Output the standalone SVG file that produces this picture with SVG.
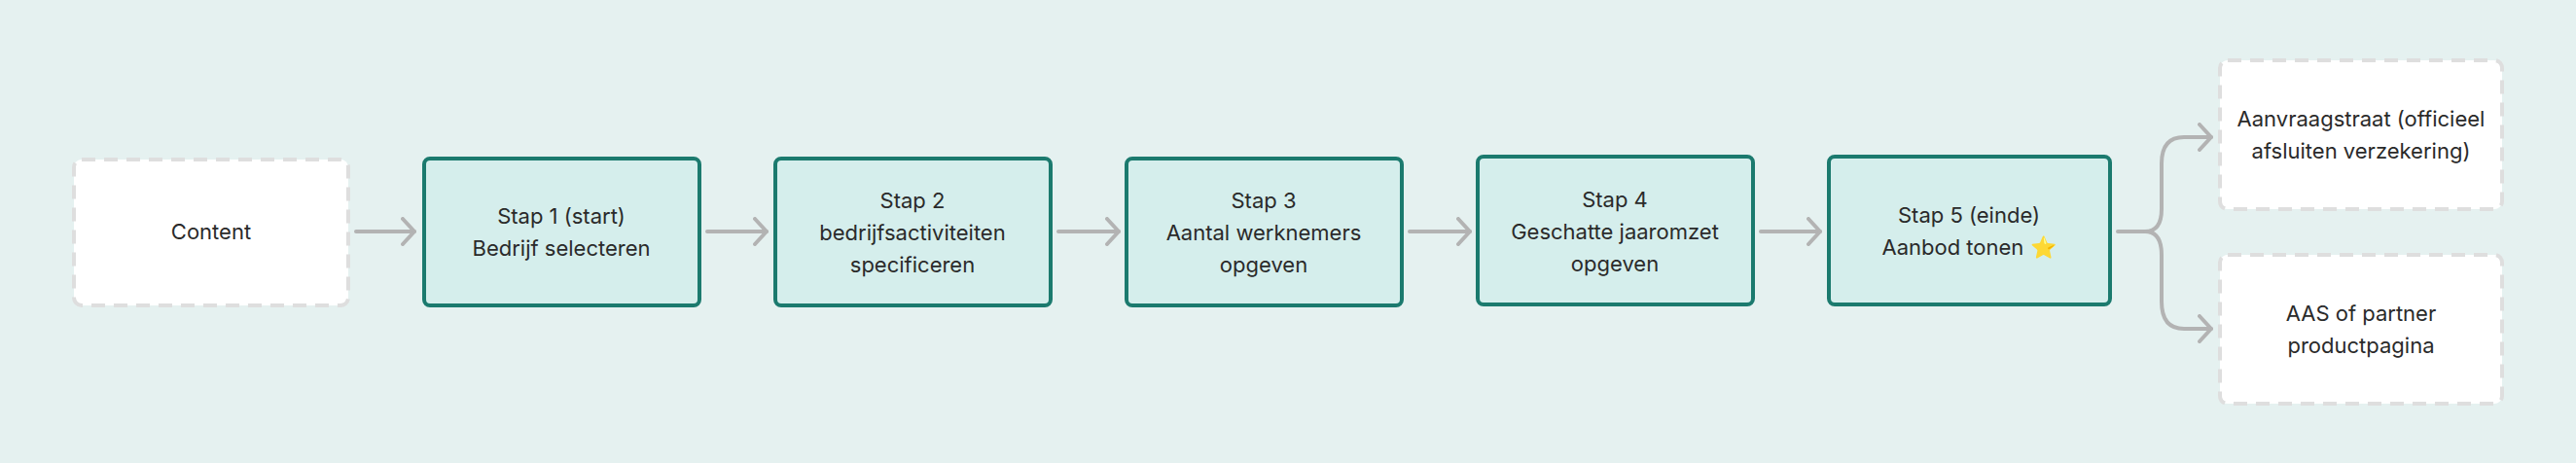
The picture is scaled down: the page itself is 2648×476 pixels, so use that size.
<svg xmlns="http://www.w3.org/2000/svg" width="2648" height="476" viewBox="0 0 2648 476">
<style>
.bg{fill:#e5f1f0}
.step rect{fill:#d5eeec;stroke:#1b7a6e;stroke-width:4}
.ext rect{fill:#fff;stroke:#dedede;stroke-width:4;stroke-dasharray:14 9}
text{font-family:Inter,"Noto Sans",sans-serif;font-size:22px;fill:#2a2a2a;text-anchor:middle}
.c path{fill:none;stroke:#b3b3b3;stroke-width:4;stroke-linecap:round;stroke-linejoin:round}
</style>
<defs><marker id="a" markerWidth="16" markerHeight="30" refX="14" refY="15" orient="auto" markerUnits="userSpaceOnUse"><path d="M2 2 L14 15 L2 28" fill="none" stroke="#b3b3b3" stroke-width="4" stroke-linecap="round" stroke-linejoin="round"/></marker></defs>
<rect class="bg" width="2648" height="476"/>
<g class="c">
<path d="M366 238H426" marker-end="url(#a)"/>
<path d="M727 238H788" marker-end="url(#a)"/>
<path d="M1088 238H1150" marker-end="url(#a)"/>
<path d="M1449 238H1511" marker-end="url(#a)"/>
<path d="M1810 238H1871" marker-end="url(#a)"/>
<path d="M2177 238H2205Q2222 238 2222 215V168Q2222 141 2245 141H2273" marker-end="url(#a)"/>
<path d="M2205 238Q2222 238 2222 262V310Q2222 338 2245 338H2273" marker-end="url(#a)"/>
</g>
<g id="content" class="ext"><rect x="76" y="164" width="282" height="150" rx="8"/><text x="217" y="246">Content</text></g>
<g id="stap1" class="step"><rect x="436" y="163" width="283" height="151" rx="6"/><text x="577" y="230">Stap 1 (start)</text><text x="577" y="263">Bedrijf selecteren</text></g>
<g id="stap2" class="step"><rect x="797" y="163" width="283" height="151" rx="6"/><text x="938" y="214">Stap 2</text><text x="938" y="247">bedrijfsactiviteiten</text><text x="938" y="280">specificeren</text></g>
<g id="stap3" class="step"><rect x="1158" y="163" width="283" height="151" rx="6"/><text x="1299" y="214">Stap 3</text><text x="1299" y="247">Aantal werknemers</text><text x="1299" y="280">opgeven</text></g>
<g id="stap4" class="step"><rect x="1519" y="161" width="283" height="152" rx="6"/><text x="1660" y="213">Stap 4</text><text x="1660" y="246">Geschatte jaaromzet</text><text x="1660" y="279">opgeven</text></g>
<g id="stap5" class="step"><rect x="1880" y="161" width="289" height="152" rx="6"/><text x="2024" y="229">Stap 5 (einde)</text><text x="2024" y="262">Aanbod tonen ⭐</text></g>
<g id="aanvraag" class="ext"><rect x="2282" y="62" width="290" height="153" rx="8"/><text x="2427" y="130">Aanvraagstraat (officieel</text><text x="2427" y="163">afsluiten verzekering)</text></g>
<g id="aas" class="ext"><rect x="2282" y="262" width="290" height="153" rx="8"/><text x="2427" y="330">AAS of partner</text><text x="2427" y="363">productpagina</text></g>
</svg>
